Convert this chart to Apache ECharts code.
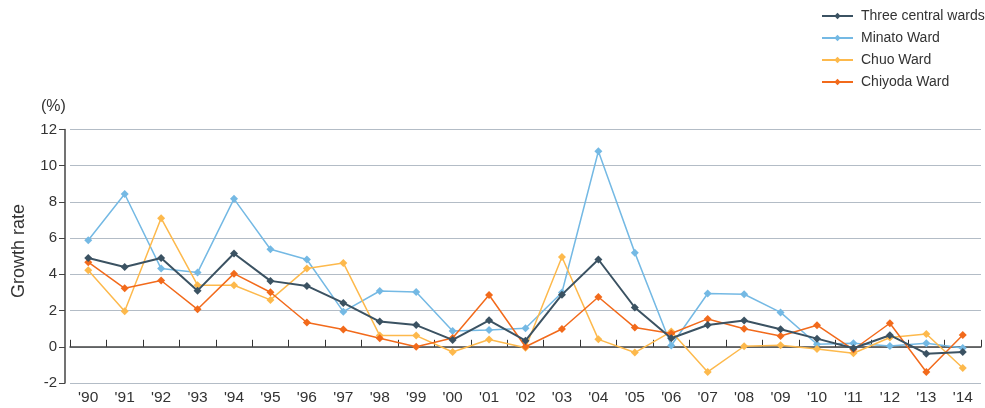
<!DOCTYPE html>
<html>
<head>
<meta charset="utf-8">
<style>
  html, body { margin: 0; padding: 0; background: #fff; }
  #chart { width: 985px; height: 408px; }
</style>
<script src="https://cdn.jsdelivr.net/npm/echarts@6/dist/echarts.min.js"></script>
</head>
<body>
<div id="chart"></div>
<script>
var years = ["'90", "'91", "'92", "'93", "'94", "'95", "'96", "'97", "'98", "'99",
  "'00", "'01", "'02", "'03", "'04", "'05", "'06", "'07", "'08", "'09",
  "'10", "'11", "'12", "'13", "'14"];

var threeCentral = [4.9, 4.41, 4.9, 3.1, 5.15, 3.64, 3.36, 2.42, 1.39, 1.2,
  0.38, 1.46, 0.34, 2.88, 4.82, 2.17, 0.47, 1.2, 1.45, 0.97,
  0.45, -0.08, 0.64, -0.38, -0.29];
var minato = [5.88, 8.44, 4.32, 4.1, 8.17, 5.39, 4.82, 1.94, 3.08, 3.03,
  0.87, 0.93, 1.02, 3.0, 10.8, 5.2, 0.07, 2.94, 2.9, 1.9,
  0.14, 0.19, 0.05, 0.19, -0.07];
var chuo = [4.23, 1.96, 7.1, 3.4, 3.4, 2.59, 4.32, 4.63, 0.62, 0.62,
  -0.29, 0.4, -0.05, 4.96, 0.41, -0.32, 0.84, -1.39, 0.03, 0.08,
  -0.12, -0.36, 0.51, 0.71, -1.17];
var chiyoda = [4.67, 3.23, 3.66, 2.07, 4.04, 3.01, 1.34, 0.95, 0.47, 0.0,
  0.49, 2.86, 0.0, 0.98, 2.75, 1.06, 0.73, 1.54, 1.0, 0.6,
  1.19, -0.15, 1.3, -1.39, 0.65];

var names = ["Three central wards", "Minato Ward", "Chuo Ward", "Chiyoda Ward"];
var colors = ["#3b5262", "#74b9e4", "#fdb94c", "#f26a1b"];

function makeSeries(name, data, color, width, z) {
  return {
    name: name,
    type: "line",
    data: data,
    symbol: "diamond",
    symbolSize: 8,
    showSymbol: true,
    z: z,
    itemStyle: { color: color },
    lineStyle: { color: color, width: width },
    emphasis: { disabled: true }
  };
}

var myChart = echarts.init(document.getElementById("chart"));
var option = {
  animation: false,
  textStyle: { fontFamily: "Liberation Sans, Arial, sans-serif" },
  legend: {
    data: names,
    orient: "vertical",
    left: 816,
    top: 4,
    itemWidth: 31,
    itemHeight: 8,
    itemGap: 8,
    textStyle: { color: "#333", fontSize: 14, padding: [0, 0, 0, 3] }
  },
  grid: { left: 70, right: 4, top: 129.5, bottom: 25 },
  graphic: [
    { type: "text", left: 41, top: 99, style: { text: "(%)", fontSize: 16, fill: "#333", fontFamily: "Liberation Sans" } },
    { type: "text", x: 19, y: 251, rotation: Math.PI / 2,
      style: { text: "Growth rate", fontSize: 18, fill: "#333", fontFamily: "Liberation Sans", align: "center", verticalAlign: "middle" } }
  ],
  xAxis: [
    {
      type: "category",
      data: years,
      position: "bottom",
      axisLine: { show: false, onZero: false },
      axisTick: { show: false },
      axisLabel: { color: "#333", fontSize: 15.5, margin: 7 }
    },
    {
      type: "category",
      data: years,
      position: "bottom",
      axisLine: { show: true, onZero: true, lineStyle: { color: "#444", width: 1.5 } },
      axisTick: { show: true, inside: true, length: 7, lineStyle: { color: "#333" } },
      axisLabel: { show: false }
    }
  ],
  yAxis: {
    type: "value",
    min: -2,
    max: 12,
    interval: 2,
    offset: 5,
    axisLine: { show: true, lineStyle: { color: "#444", width: 1.5 } },
    axisTick: { show: true, length: 6, lineStyle: { color: "#444" } },
    axisLabel: { color: "#333", fontSize: 15, margin: 8 },
    splitLine: { show: true, lineStyle: { color: "#b3bcc6", width: 1.2 } }
  },
  series: [
    makeSeries(names[0], threeCentral, colors[0], 2, 5),
    makeSeries(names[1], minato, colors[1], 1.5, 2),
    makeSeries(names[2], chuo, colors[2], 1.5, 3),
    makeSeries(names[3], chiyoda, colors[3], 1.5, 4)
  ]
};
myChart.setOption(option);
</script>
</body>
</html>
